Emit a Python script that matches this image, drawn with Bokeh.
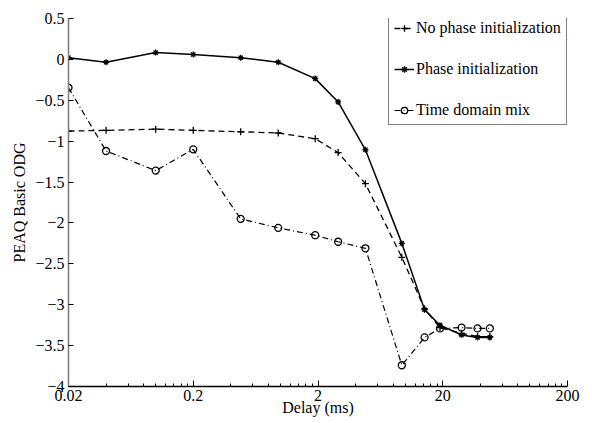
from bokeh.plotting import figure
from bokeh.models import (Range1d, FixedTicker, CustomJSTickFormatter, Legend,
                          LegendItem, ColumnDataSource)
from bokeh.embed import file_html
from bokeh.resources import INLINE

# ---- data ----
delay_ms = [0.02, 0.04, 0.1, 0.2, 0.48, 0.96, 1.9, 2.9, 4.8, 9.4, 14.3, 19, 28.3, 38, 47.7]
no_phase_init = [-0.877, -0.868, -0.853, -0.868, -0.885, -0.90, -0.97, -1.14, -1.52,
                 -2.42, -3.05, -3.28, -3.35, -3.39, -3.39]
phase_init = [0.02, -0.035, 0.083, 0.06, 0.02, -0.035, -0.235, -0.52, -1.105,
              -2.25, -3.06, -3.25, -3.37, -3.40, -3.40]
time_domain_mix = [-0.346, -1.12, -1.36, -1.10, -1.95, -2.06, -2.15, -2.23, -2.31,
                   -3.74, -3.40, -3.29, -3.28, -3.29, -3.29]
series_labels = ["No phase initialization", "Phase initialization", "Time domain mix"]

x_major_ticks = [0.02, 0.2, 2, 20, 200]
x_minor_ticks = ([0.04, 0.06, 0.08, 0.10, 0.12, 0.14, 0.16, 0.18] +
                 [0.4, 0.6, 0.8, 1.0, 1.2, 1.4, 1.6, 1.8] +
                 [4, 6, 8, 10, 12, 14, 16, 18] +
                 [40, 60, 80, 100, 120, 140, 160, 180])
y_ticks = [-4, -3.5, -3, -2.5, -2, -1.5, -1, -0.5, 0, 0.5]
x_label = "Delay (ms)"
y_label = "PEAQ Basic ODG"

FONT = "Liberation Serif"

src = ColumnDataSource(dict(delay=delay_ms, nophase=no_phase_init,
                            phase=phase_init, mix=time_domain_mix))

p = figure(width=592, height=423, x_axis_type="log",
           x_range=Range1d(x_major_ticks[0], x_major_ticks[-1]),
           y_range=Range1d(y_ticks[0], y_ticks[-1]),
           output_backend="svg", toolbar_location=None,
           min_border_left=68, min_border_right=25,
           min_border_top=18, min_border_bottom=37)
p.outline_line_color = None
p.grid.visible = False
p.background_fill_color = "white"

r1 = p.line("delay", "nophase", source=src, line_color="black",
            line_width=1.3, line_dash="6 4")
s1 = p.scatter("delay", "nophase", source=src, marker="cross", size=7,
               line_color="black", line_width=1.3)
r2 = p.line("delay", "phase", source=src, line_color="black", line_width=1.5)
s2 = p.scatter("delay", "phase", source=src, marker="asterisk", size=6,
               line_color="black", line_width=1.3)
r3 = p.line("delay", "mix", source=src, line_color="black",
            line_width=1.2, line_dash="6 3 1 3")
s3 = p.scatter("delay", "mix", source=src, marker="circle", size=7,
               fill_color=None, line_color="black", line_width=1.3)

# x axis
xa = p.xaxis[0]
xa.ticker = FixedTicker(ticks=x_major_ticks, minor_ticks=x_minor_ticks)
xa.formatter = CustomJSTickFormatter(code="return String(tick);")
xa.axis_line_color = "black"
xa.axis_line_width = 1.3
xa.major_tick_in = 6
xa.major_tick_out = 0
xa.minor_tick_in = 3
xa.minor_tick_out = 0
xa.major_tick_line_color = "black"
xa.minor_tick_line_color = "black"
xa.major_label_text_font = FONT
xa.major_label_text_font_size = "16px"
xa.major_label_text_color = "black"
xa.major_label_standoff = 3
xa.axis_label = x_label
xa.axis_label_text_font = FONT
xa.axis_label_text_font_size = "16px"
xa.axis_label_text_font_style = "normal"
xa.axis_label_text_color = "black"
xa.axis_label_standoff = -5

# y axis
ya = p.yaxis[0]
ya.ticker = FixedTicker(ticks=y_ticks)
ya.formatter = CustomJSTickFormatter(code="return String(tick).replace('-', '\\u2212');")
ya.axis_line_color = "#808080"
ya.axis_line_width = 1.6
ya.major_tick_in = 5
ya.major_tick_out = 0
ya.minor_tick_line_color = None
ya.major_tick_line_color = "black"
ya.major_label_text_font = FONT
ya.major_label_text_font_size = "16px"
ya.major_label_text_color = "black"
ya.major_label_standoff = 4
ya.axis_label = y_label
ya.axis_label_text_font = FONT
ya.axis_label_text_font_size = "16px"
ya.axis_label_text_font_style = "normal"
ya.axis_label_text_color = "black"
ya.axis_label_standoff = 4

legend = Legend(items=[LegendItem(label=series_labels[0], renderers=[r1, s1]),
                       LegendItem(label=series_labels[1], renderers=[r2, s2]),
                       LegendItem(label=series_labels[2], renderers=[r3, s3])],
                location=(320, 261), orientation="vertical",
                label_text_font=FONT, label_text_font_size="16px",
                label_text_color="black",
                glyph_width=20, glyph_height=16, label_height=16,
                label_standoff=2, spacing=23, padding=5,
                border_line_color="black", border_line_width=1,
                background_fill_color="white", background_fill_alpha=1.0)
p.add_layout(legend)

open("out.html", "w").write(file_html(p, INLINE))
